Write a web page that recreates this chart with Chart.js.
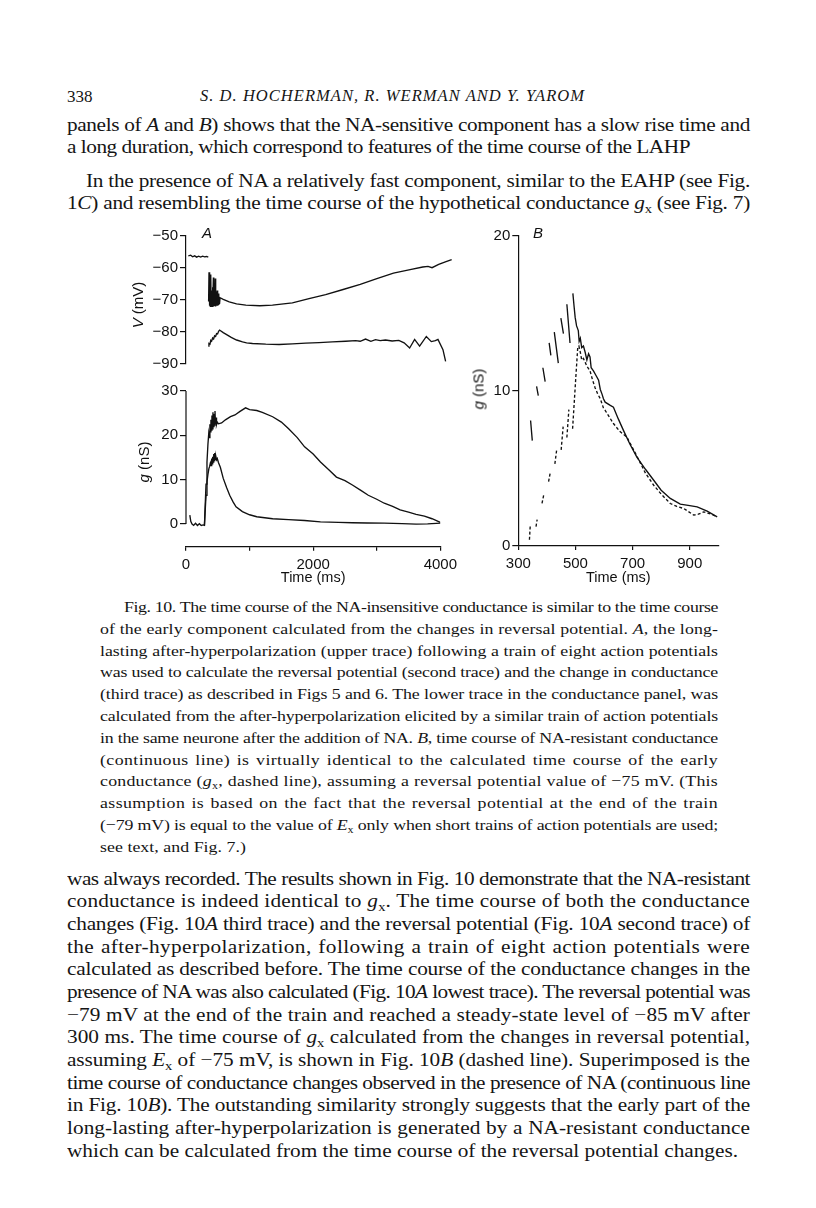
<!DOCTYPE html>
<html>
<head>
<meta charset="utf-8">
<script src="https://cdn.jsdelivr.net/npm/chart.js@4.4.1/dist/chart.umd.min.js"></script>
<style>
  html, body { margin:0; padding:0; background:#fff; }
  body { width:816px; height:1208px; position:relative; overflow:hidden; color:#151515;
         font-family:'Liberation Serif','Times New Roman',serif; }
  .ln { position:absolute; white-space:normal; }
  .b { left:67px; width:683px; font-size:18.5px; line-height:22px; }
  .c { left:100px; width:618px; font-size:15.5px; line-height:20px; }
  .j { text-align:justify; text-align-last:justify; }
  sub { font-size:0.68em; vertical-align:-0.28em; line-height:0; font-style:normal; }
  canvas { position:absolute; }
  .yt { position:absolute; transform:translate(-50%,-50%) rotate(-90deg); white-space:nowrap;
        font:15px 'Liberation Sans',Arial,sans-serif; color:#111; }
  .pl { position:absolute; font:italic 15px 'Liberation Sans',Arial,sans-serif; color:#111; }
</style>
</head>
<body>
<!-- running head -->
<div class="ln" style="left:67px;top:87px;font-size:17px;line-height:20px;">338</div>
<div class="ln h" data-w="385" style="left:200px;top:86px;font-size:16.5px;line-height:20px;font-style:italic;white-space:nowrap;">S. D. HOCHERMAN, R. WERMAN AND Y. YAROM</div>

<!-- text above figure -->
<div class="ln b j" style="top:114px;">panels of <i>A</i> and <i>B</i>) shows that the NA-sensitive component has a slow rise time and</div>
<div class="ln b" data-w="623" style="top:136px;">a long duration, which correspond to features of the time course of the LAHP</div>
<div class="ln b j" style="top:170px;left:86px;width:664px;">In the presence of NA a relatively fast component, similar to the EAHP (see Fig.</div>
<div class="ln b j" style="top:192px;">1<i>C</i>) and resembling the time course of the hypothetical conductance <i>g</i><sub>x</sub> (see Fig. 7)</div>

<!-- figure -->
<canvas id="cVA" width="362" height="150" style="left:100px;top:225px;"></canvas>
<canvas id="cGA" width="362" height="215" style="left:100px;top:380px;"></canvas>
<canvas id="cGB" width="300" height="370" style="left:430px;top:225px;"></canvas>
<div class="pl" style="left:202px;top:224px;">A</div>
<div class="pl" style="left:533px;top:224px;">B</div>
<div class="yt" style="left:137px;top:305px;"><i>V</i> (mV)</div>
<div class="yt" style="left:143px;top:462px;"><i>g</i> (nS)</div>
<div class="yt" style="left:478px;top:389px;"><i>g</i> (nS)</div>

<!-- caption -->
<div class="ln c j" style="top:597px;left:124px;width:594px;">Fig. 10. The time course of the NA-insensitive conductance is similar to the time course</div>
<div class="ln c j" style="top:618.8px;">of the early component calculated from the changes in reversal potential. <i>A</i>, the long-</div>
<div class="ln c j" style="top:640.6px;">lasting after-hyperpolarization (upper trace) following a train of eight action potentials</div>
<div class="ln c j" style="top:662.4px;">was used to calculate the reversal potential (second trace) and the change in conductance</div>
<div class="ln c j" style="top:684.2px;">(third trace) as described in Figs 5 and 6. The lower trace in the conductance panel, was</div>
<div class="ln c j" style="top:706px;">calculated from the after-hyperpolarization elicited by a similar train of action potentials</div>
<div class="ln c j" style="top:727.8px;">in the same neurone after the addition of NA. <i>B</i>, time course of NA-resistant conductance</div>
<div class="ln c j" style="top:749.6px;">(continuous line) is virtually identical to the calculated time course of the early</div>
<div class="ln c j" style="top:771.4px;">conductance (<i>g</i><sub>x</sub>, dashed line), assuming a reversal potential value of −75 mV. (This</div>
<div class="ln c j" style="top:793.2px;">assumption is based on the fact that the reversal potential at the end of the train</div>
<div class="ln c j" style="top:815px;">(−79 mV) is equal to the value of <i>E</i><sub>x</sub> only when short trains of action potentials are used;</div>
<div class="ln c" data-w="146" style="top:836.8px;">see text, and Fig. 7.)</div>

<!-- text below figure -->
<div class="ln b j" style="top:867.5px;">was always recorded. The results shown in Fig. 10 demonstrate that the NA-resistant</div>
<div class="ln b j" style="top:890.2px;">conductance is indeed identical to <i>g</i><sub>x</sub>. The time course of both the conductance</div>
<div class="ln b j" style="top:912.8px;">changes (Fig. 10<i>A</i> third trace) and the reversal potential (Fig. 10<i>A</i> second trace) of</div>
<div class="ln b j" style="top:935.5px;">the after-hyperpolarization, following a train of eight action potentials were</div>
<div class="ln b j" style="top:958.2px;">calculated as described before. The time course of the conductance changes in the</div>
<div class="ln b j" style="top:980.8px;">presence of NA was also calculated (Fig. 10<i>A</i> lowest trace). The reversal potential was</div>
<div class="ln b j" style="top:1003.5px;">−79 mV at the end of the train and reached a steady-state level of −85 mV after</div>
<div class="ln b j" style="top:1026.2px;">300 ms. The time course of <i>g</i><sub>x</sub> calculated from the changes in reversal potential,</div>
<div class="ln b j" style="top:1048.8px;">assuming <i>E</i><sub>x</sub> of −75 mV, is shown in Fig. 10<i>B</i> (dashed line). Superimposed is the</div>
<div class="ln b j" style="top:1071.5px;">time course of conductance changes observed in the presence of NA (continuous line</div>
<div class="ln b j" style="top:1094.2px;">in Fig. 10<i>B</i>). The outstanding similarity strongly suggests that the early part of the</div>
<div class="ln b j" style="top:1116.8px;">long-lasting after-hyperpolarization is generated by a NA-resistant conductance</div>
<div class="ln b" data-w="671" style="top:1139.5px;">which can be calculated from the time course of the reversal potential changes.</div>

<script>
// ---------------- DATA ----------------
// Panel A, upper: membrane potential V (mV) against time (ms)
const tRest = [35, 70, 100, 130, 160, 190, 220, 250, 280, 310, 335];
const vRest = [-56.2, -56.0, -56.5, -56.2, -56.6, -56.3, -56.6, -56.3, -56.5, -56.4, -56.6];

const tLahp = [340, 346, 352, 358, 366, 372, 378, 386, 392, 398, 404, 412, 418, 426, 432, 440, 446, 454, 462, 468, 476, 484, 490, 496, 504, 512,
               560, 650, 760, 900, 1110, 1300, 1600, 1850, 2100, 2350, 2620, 2870, 3120, 3370, 3560, 3640, 3700, 3800, 3900, 3995];
const vLahp = [-70.5, -61.3, -71.8, -66.5, -72.0, -62.0, -71.9, -67.0, -72.0, -66.0, -71.8, -63.0, -72.0, -66.5, -71.9, -63.3, -72.0, -67.5, -71.8, -67.0, -71.8, -68.0, -71.6, -68.5, -71.2, -69.3,
               -69.8, -70.6, -71.2, -71.6, -71.8, -71.6, -70.9, -69.6, -68.3, -66.8, -65.1, -63.3, -61.6, -60.5, -59.7, -59.5, -59.9, -58.9, -58.1, -57.4];

// Panel A, second trace: reversal potential (mV)
const tRev = [335, 345, 360, 372, 385, 400, 415, 430, 445, 460, 475, 490, 505, 520, 560, 611, 680, 761, 850, 911, 1000, 1200, 1400, 1600, 1800, 2000, 2200, 2400,
              2550, 2620, 2700, 2780, 2850, 2920, 3000, 3100, 3200, 3280, 3363, 3438, 3513, 3614, 3689, 3750, 3789, 3864, 3904];
const vRev = [-84.4, -83.6, -83.8, -82.6, -82.9, -81.9, -82.2, -81.2, -81.4, -80.5, -80.6, -79.8, -79.4, -79.6, -80.2, -80.8, -81.7, -82.5, -83.1, -83.4, -83.6, -83.8, -83.9, -83.7, -83.5, -83.3, -83.1, -82.9,
              -82.7, -82.9, -82.2, -82.9, -82.4, -82.7, -82.5, -82.8, -82.6, -83.4, -85.0, -82.3, -84.4, -81.4, -83.0, -82.7, -82.3, -85.5, -89.2];

// Panel A, lower: conductance g (nS), control (third trace)
const tGctl = [60, 75, 95, 120, 150, 180, 210, 240, 270, 290, 300, 315, 330, 345, 358, 368, 376, 384, 392, 400, 408, 416, 424, 432, 440, 448, 456, 464, 472, 480, 492, 510,
               560, 620, 700, 770, 850, 937, 1000, 1113, 1200, 1363, 1500, 1614, 1750, 1865, 2000, 2115, 2250, 2366, 2500, 2617, 2750, 2867, 3000, 3118, 3250, 3368, 3500, 3619, 3750, 3870, 4000];
const gCtl = [2.0, 0.6, 0.0, -0.3, 0.2, -0.3, 0.1, -0.3, -0.2, -0.3, 3.5, 9.0, 14.0, 18.0, 20.5, 19.5, 22.5, 20.8, 23.5, 21.2, 24.5, 21.5, 25.2, 22.0, 24.8, 22.3, 25.5, 22.5, 24.0, 22.4, 23.0, 22.6,
              22.8, 23.5, 24.2, 24.6, 25.4, 26.2, 25.8, 25.6, 25.2, 24.2, 23.0, 21.5, 19.5, 17.4, 15.8, 14.0, 12.2, 10.6, 9.8, 8.8, 7.6, 6.5, 5.6, 4.7, 4.0, 3.2, 2.7, 2.2, 1.8, 1.2, 0.4];

// Panel A, lower: conductance g (nS) after NA (lowest trace)
const tGna = [290, 300, 315, 330, 345, 360, 372, 384, 396, 404, 412, 420, 428, 436, 444, 452, 460, 470, 480, 492, 510, 540, 586, 640, 687, 740, 787, 887,
              1000, 1113, 1363, 1614, 1865, 2115, 2400, 2617, 2850, 3118, 3400, 3619, 3800, 4005];
const gNa = [-0.3, 2.5, 6.5, 9.5, 11.2, 12.5, 13.0, 13.8, 13.2, 14.8, 13.6, 15.2, 14.0, 15.8, 14.3, 16.0, 14.6, 15.2, 14.5, 14.8, 13.9, 12.8, 10.3, 8.2, 6.5, 5.0, 3.9, 2.8,
             2.1, 1.65, 1.2, 1.0, 0.8, 0.5, 0.4, 0.3, 0.25, 0.2, 0.1, 0.0, 0.05, 0.2];

// Panel B: NA-resistant conductance (continuous line); null = break between pieces
const tBsolid = [343, 349, 349, 364, 370, 370, 386, 394, 394, 408, 414, 414, 426, 440, 440, 449, 458, 458, 470, 481, 481,
                 491, 495, 499, 504, 510, 513, 517, 522, 528, 534, 540, 546, 551, 555, 563, 572, 581, 587, 593, 598, 604, 622, 633, 650, 668, 690, 715, 745, 774, 800, 832, 867, 900, 926, 961, 996];
const gBsolid = [8.1, 6.8, null, 10.3, 9.7, null, 11.5, 10.6, null, 13.1, 12.3, null, 13.8, 11.8, null, 14.7, 13.7, null, 15.6, 13.1, null,
                 16.3, 15.5, 14.75, 14.2, 13.9, 13.2, 13.4, 12.8, 12.9, 12.5, 12.0, 12.4, 12.2, 11.5, 11.3, 11.0, 10.7, 10.1, 9.8, 9.5, 9.28, 9.07, 8.96, 8.2, 7.46, 6.6, 5.74, 4.95, 4.24, 3.6, 3.07, 2.7, 2.6, 2.53, 2.25, 1.88];

// Panel B: calculated g_x (dashed line)
const tBdash = [339, 342, 342, 362, 366, 366, 383, 389, 389, 406, 412, 412, 428, 435, 435, 450, 457, 457, 470, 477, 477,
                490, 500, 508, 512, 517, 522, 528, 534, 540, 551, 560, 569, 578, 587, 598, 604, 633, 655, 680, 715, 745, 774, 800, 832, 855, 879, 914, 930, 949, 975, 996];
const gBdash = [0.4, 1.4, null, 1.25, 1.7, null, 2.75, 3.3, null, 4.15, 4.75, null, 5.3, 6.3, null, 6.2, 7.7, null, 7.0, 8.8, null,
                7.56, 10.5, 12.8, 12.9, 12.5, 12.0, 12.1, 11.85, 11.6, 11.3, 10.7, 10.2, 9.8, 9.5, 8.9, 8.75, 7.9, 7.4, 7.03, 5.8, 4.7, 3.92, 3.35, 2.74, 2.55, 2.42, 1.99, 2.05, 2.2, 2.05, 1.88];

// Ticks
const vTicks = [-50, -60, -70, -80, -90];
const gTicksA = [0, 10, 20, 30];
const tTicksA = [0, 1000, 2000, 3000, 4000];
const tLabelsA = ['0', '', '2000', '', '4000'];
const gTicksB = [0, 10, 20];
const tTicksB = [300, 500, 700, 900];

// ---------------- CHARTS ----------------
const INK = '#111';
Chart.defaults.font.family = "'Liberation Sans', Arial, Helvetica, sans-serif";
Chart.defaults.font.size = 15;
Chart.defaults.color = INK;

const pts = (ts, vs) => ts.map((t, i) => ({ x: t, y: vs[i] }));
const fixTicks = vals => axis => { axis.ticks = vals.map(v => ({ value: v })); };
const line = (data, dashed) => ({ data, borderColor: INK, borderWidth: 1.35, pointRadius: 0,
  tension: 0, fill: false, spanGaps: false, borderDash: dashed ? [3, 2.2] : [] });

const yGrid = { display: true, drawOnChartArea: false, drawTicks: true, tickLength: 6, color: INK, lineWidth: 1.2 };
const xGrid = { display: true, drawOnChartArea: false, drawTicks: true, tickLength: 4, color: INK, lineWidth: 1.2 };
const border = { display: true, color: INK, width: 1.2 };
const xTitle = { display: true, text: 'Time (ms)', font: { size: 14.5 }, padding: { top: 0, bottom: 8 } };

const base = extra => Object.assign({
  responsive: false, animation: false, devicePixelRatio: 1,
  plugins: { legend: { display: false }, tooltip: { enabled: false } },
}, extra);

// partial y-axis line (only between given values)
const partialY = {
  id: 'partialY',
  afterDatasetsDraw(chart, args, opts) {
    const y = chart.scales.y, ctx = chart.ctx, x = chart.chartArea.left;
    ctx.save();
    ctx.strokeStyle = INK; ctx.lineWidth = 1.2;
    ctx.beginPath();
    ctx.moveTo(x, y.getPixelForValue(opts.from));
    ctx.lineTo(x, y.getPixelForValue(opts.to));
    ctx.stroke();
    ctx.restore();
  }
};

// A upper: V
new Chart(document.getElementById('cVA'), {
  type: 'line',
  data: { datasets: [line(pts(tRest, vRest)), line(pts(tLahp, vLahp)), line(pts(tRev, vRev))] },
  options: base({
    layout: { padding: { top: 10, bottom: 6.7, left: 0, right: 10 } },
    scales: {
      x: { type: 'linear', min: 0, max: 4000, display: false },
      y: { type: 'linear', min: -90, max: -50, grid: yGrid, border,
           afterBuildTicks: fixTicks(vTicks), afterFit: s => { s.width = 86; },
           ticks: { padding: 2, callback: v => '\u2212' + Math.abs(v) } }
    }
  })
});

// A lower: g
new Chart(document.getElementById('cGA'), {
  type: 'line',
  data: { datasets: [line(pts(tGctl, gCtl)), line(pts(tGna, gNa))] },
  plugins: [partialY],
  options: base({
    plugins: { legend: { display: false }, tooltip: { enabled: false }, partialY: { from: 0, to: 30 } },
    layout: { padding: { top: 10.7, bottom: 0, left: 0, right: 10 } },
    scales: {
      x: { type: 'linear', min: 0, max: 4000, grid: xGrid, border,
           afterBuildTicks: fixTicks(tTicksA), afterFit: s => { s.height = 48.3; },
           ticks: { padding: 5, autoSkip: false, maxRotation: 0, callback: (v, i) => tLabelsA[i] },
           title: xTitle },
      y: { type: 'linear', min: -5.1, max: 30, grid: yGrid, border: { display: false },
           afterBuildTicks: fixTicks(gTicksA), afterFit: s => { s.width = 86; },
           ticks: { padding: 2 } }
    }
  })
});

// B
new Chart(document.getElementById('cGB'), {
  type: 'line',
  data: { datasets: [line(pts(tBsolid, gBsolid)), line(pts(tBdash, gBdash), true)] },
  options: base({
    layout: { padding: { top: 10, bottom: 0, left: 0, right: 11.7 } },
    scales: {
      x: { type: 'linear', min: 300, max: 1000, grid: xGrid, border,
           afterBuildTicks: fixTicks(tTicksB), afterFit: s => { s.height = 49; },
           ticks: { padding: 5, autoSkip: false, maxRotation: 0 },
           title: xTitle },
      y: { type: 'linear', min: 0, max: 20, grid: yGrid, border,
           afterBuildTicks: fixTicks(gTicksB), afterFit: s => { s.width = 88.3; },
           ticks: { padding: 2 } }
    }
  })
});

// ---------------- text fitting (wider glyphs like the original typeface) ----------------
const SX = 1.15;
function naturalWidth(el) {
  const probe = el.cloneNode(true);
  probe.classList.remove('j');
  probe.style.width = 'auto';
  probe.style.whiteSpace = 'nowrap';
  probe.style.visibility = 'hidden';
  probe.style.left = '0px';
  probe.style.transform = 'none';
  document.body.appendChild(probe);
  const w = probe.getBoundingClientRect().width;
  probe.remove();
  return w;
}
document.querySelectorAll('.ln.b, .ln.c').forEach(el => {
  const W = el.getBoundingClientRect().width;           // visual target width
  const w = naturalWidth(el);
  const n = el.textContent.length;
  const inner = W / SX;
  let ls;
  if (el.classList.contains('j')) {
    ls = Math.min((inner - 1.5 - w) / n, 0.35);
  } else if (el.dataset.w) {
    ls = (parseFloat(el.dataset.w) / SX - w) / n;
  } else { ls = 0; }
  el.style.letterSpacing = ls + 'px';
  el.style.width = inner + 'px';
  el.style.transformOrigin = '0 0';
  el.style.transform = 'scaleX(' + SX + ')';
});
document.querySelectorAll('.ln.h').forEach(el => {
  const w = naturalWidth(el);
  const n = el.textContent.length;
  el.style.letterSpacing = ((parseFloat(el.dataset.w) - w) / n) + 'px';
});
</script>
</body>
</html>
